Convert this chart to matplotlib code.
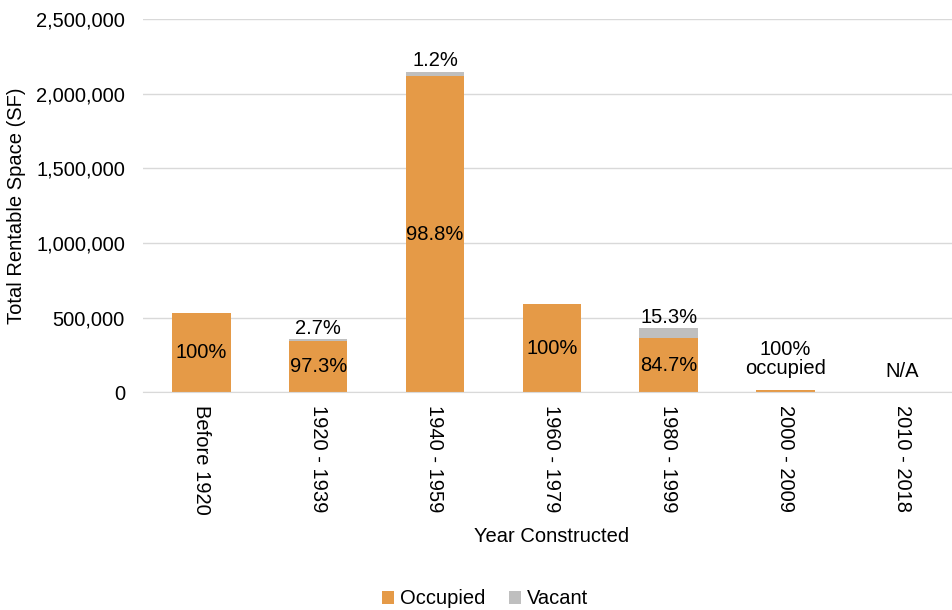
import numpy as np
import matplotlib.pyplot as plt

plt.rcParams['font.family'] = ['Liberation Sans', 'DejaVu Sans']

periods = ['Before 1920', '1920 - 1939', '1940 - 1959', '1960 - 1979',
           '1980 - 1999', '2000 - 2009', '2010 - 2018']
occupied = [530000, 345000, 2119000, 590000, 363000, 18000, 0]
vacant = [0, 10000, 26000, 0, 66000, 0, 0]
occ_labels = ['100%', '97.3%', '98.8%', '100%', '84.7%', '', '']
vac_labels = ['', '2.7%', '1.2%', '', '15.3%', '100%\noccupied', 'N/A']

orange = '#E59A47'
grey = '#BFBFBF'
fs = 14.5

fig = plt.figure(figsize=(9.53, 6.10), dpi=100)
ax = fig.add_axes([0.150, 0.357, 0.858, 0.612])

x = np.arange(len(periods))
ax.bar(x, occupied, width=0.5, color=orange, label='Occupied', zorder=2)
ax.bar(x, vacant, width=0.5, bottom=occupied, color=grey, label='Vacant', zorder=2)

for i in range(len(periods)):
    if occ_labels[i]:
        ax.text(x[i], occupied[i] / 2, occ_labels[i], ha='center', va='center',
                fontsize=fs, zorder=3)
    if vac_labels[i]:
        top = occupied[i] + vacant[i]
        # free-standing notes sit a little higher than segment labels
        off = 4 if vacant[i] > 0 else 11
        ax.annotate(vac_labels[i], (x[i], top), xytext=(0, off),
                    textcoords='offset points', ha='center', va='baseline',
                    fontsize=fs, zorder=3, linespacing=1.05)

ax.set_xlim(-0.5, len(periods) - 0.5)
ax.set_ylim(0, 2500000)
ax.set_yticks(np.arange(0, 2500001, 500000))
ax.yaxis.set_major_formatter(plt.FuncFormatter(lambda v, p: '{:,.0f}'.format(v)))
ax.set_xticks(x)
ax.set_xticklabels(periods, rotation=270, fontsize=fs)
ax.tick_params(axis='y', labelsize=fs, length=0, pad=13)
ax.tick_params(axis='x', length=0, pad=9)

ax.grid(axis='y', color='#D9D9D9', linewidth=1, zorder=0)
for s in ['top', 'right', 'left']:
    ax.spines[s].set_visible(False)
ax.spines['bottom'].set_color('#D9D9D9')

ax.set_ylabel('Total Rentable Space (SF)', fontsize=fs, labelpad=7)
ax.set_xlabel('Year Constructed', fontsize=fs, labelpad=9)

fig.legend(loc='lower center', bbox_to_anchor=(0.509, -0.027), ncol=2, frameon=False,
           fontsize=fs, handlelength=0.6, handleheight=0.6, handletextpad=0.3,
           columnspacing=1.2)

fig.savefig('out.png', dpi=100)
